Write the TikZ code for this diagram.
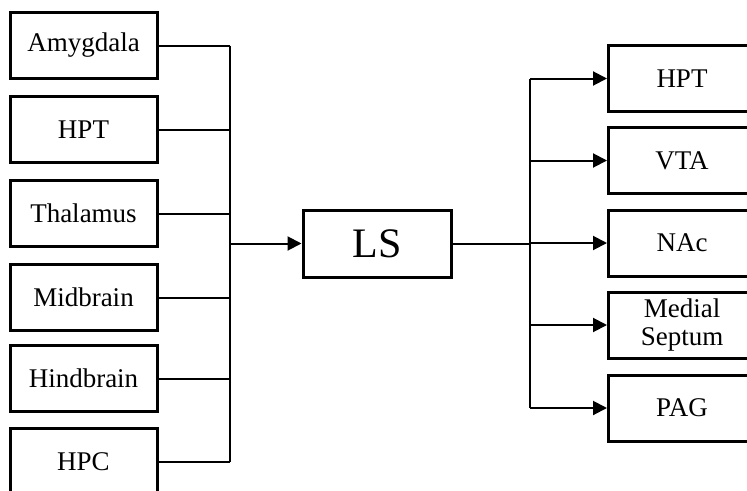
\documentclass[tikz,border=0pt]{standalone}
\usepackage{fontspec}
\setmainfont{Liberation Serif}
\usetikzlibrary{arrows.meta}
\tikzset{
  region/.style={draw, line width=3pt, minimum width=147pt, minimum height=66pt,
    inner sep=0pt, align=center, font=\fontsize{27}{30}\selectfont},
  hub/.style={draw, line width=3pt, minimum width=148pt, minimum height=67pt,
    inner sep=0pt, font=\fontsize{42}{46}\selectfont},
  wire/.style={line width=2pt},
  feed/.style={wire, -{Triangle[length=14pt,width=14pt]}}
}
\begin{document}
\begin{tikzpicture}[x=1pt,y=-1pt]
\useasboundingbox (0,0) rectangle (747,490);
\clip (0,0) rectangle (747,490);
% inputs to the lateral septum
\node[region] (amy) at (83.5,45.5) {Amygdala};
\node[region] (hptin) at (83.5,129.5) {HPT};
\node[region] (thal) at (83.5,213.5) {Thalamus};
\node[region] (mid) at (83.5,297.5) {Midbrain};
\node[region] (hind) at (83.5,378.5) {Hindbrain};
\node[region] (hpc) at (83.5,461.5) {HPC};
% lateral septum
\node[hub] (ls) at (377,243.5) {LS};
% outputs of the lateral septum
\node[region] (hptout) at (682,78.5) {HPT};
\node[region] (vta) at (682,160.5) {VTA};
\node[region] (nac) at (682,243) {NAc};
\node[region] (ms) at (682,325) {Medial\\[-2pt]Septum};
\node[region] (pag) at (682,408) {PAG};
% converging bus on the left
\coordinate (bl) at (230,0);
\foreach \n in {amy,hptin,thal,mid,hind,hpc}
  \draw[wire] (\n.east) -- (\n.east -| bl);
\draw[wire] (amy.east -| bl) -- (hpc.east -| bl);
\draw[feed] (ls.west -| bl) -- (ls.west);
% diverging bus on the right
\coordinate (br) at (530,0);
\draw[wire] (ls.east) -- (ls.east -| br);
\draw[wire] (hptout.west -| br) -- (pag.west -| br);
\foreach \n in {hptout,vta,nac,ms,pag}
  \draw[feed] (\n.west -| br) -- (\n.west);
\end{tikzpicture}
\end{document}
